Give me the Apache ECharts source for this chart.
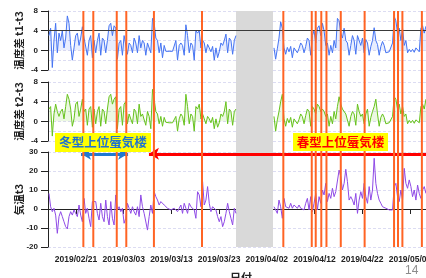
<!DOCTYPE html>
<html><head><meta charset="utf-8">
<script src="https://cdn.jsdelivr.net/npm/echarts@6/dist/echarts.min.js"></script>
<style>html,body{margin:0;padding:0;background:#fff}#c{width:426px;height:278px}</style>
</head><body><div id="c"></div>
<script>
// ---- data ----
const STEP_H = 8.4;
const startA = '2019-02-15T08:00';       // first segment (before the data gap)
const startB = '2019-04-03T12:00';       // second segment (after the data gap)

const t1t3_A = [3.0,4.5,-3.5,2.0,5.5,-0.5,3.5,2.0,4.0,0.5, 2.5,7.0,5.5,1.0,-2.0,0.5,3.0,3.5,1.0,2.5,
  4.8,2.5,2.5,-1.0,2.0,3.0,-1.5,2.0,-0.5,2.0, 3.5,-1.0,2.5,2.0,-0.5,2.0,5.0,5.5,3.0,5.0,
  4.5,-1.8,1.5,2.0,-1.0,3.0,3.2,-0.8,1.5,1.0, -0.5,2.5,1.5,-0.5,3.0,0.5,2.0,1.5,-1.0,1.5,
  1.2,-0.5,6.5,5.5,2.5,2.0,-0.5,1.5,-1.5,1.0, -0.2,-0.3,-0.2,-0.4,-0.2,-0.5,2.0,-2.0,1.0,1.5,
  1.0,-1.0,5.2,3.0,-0.5,1.5,1.0,-2.0,4.0,3.5, 4.0,0.5,2.0,1.5,-0.5,1.2,0.5,-0.3,0.8,-2.0,
  0.5,-1.5,-0.3,1.5,1.0,2.0,3.3,-0.5,2.5,2.0, -0.8,2.0,3.0];
const t1t3_B = [0.5,-1.8,0.3,2.5,5.8,4.5,0.5,-0.8,0.6,-0.3, 0.8,-1.5,0.5,0.7,-0.5,0.4,1.5,1.0,-0.5,0.8,
  2.5,2.0,-1.0,3.0,4.0,1.5,4.5,5.0,3.0,5.5, 4.0,1.0,1.5,-1.0,1.0,-0.5,2.0,0.5,6.5,6.0,
  3.5,2.5,4.5,2.0,1.5,-1.0,1.0,3.0,2.0,-0.8, 3.0,2.0,1.0,2.5,-0.5,2.2,1.5,-1.0,0.8,2.0,
  4.6,2.0,1.2,-1.0,0.8,1.8,1.0,-0.5,-0.2,-0.3, -0.2,1.5,6.9,6.0,3.5,4.5,2.0,4.5,1.0,2.0,
  -0.5,0.2,-0.3,0.2,-0.4,0.5,0.7,-0.3,4.5,5.0, 3.5,4.9];

const t2t3_A = [2.5,3.0,-3.0,1.5,3.5,2.0,1.0,2.0,2.5,0.5, 3.0,5.5,4.5,2.5,-1.0,0.5,3.5,4.0,1.0,2.5,
  4.5,2.0,2.5,-0.8,2.5,3.0,-1.2,2.5,-0.5,2.0, 3.0,-1.0,2.5,2.0,-0.5,2.5,5.0,5.5,3.5,4.5,
  5.0,-1.5,2.5,3.0,-0.8,3.5,4.0,-0.5,1.5,1.2, -0.5,2.5,2.0,-0.5,3.5,1.0,1.5,1.2,-0.8,2.0,
  1.0,-1.5,6.5,4.5,2.0,1.5,-0.5,1.0,-1.0,0.8, -0.2,-0.2,-0.3,-0.2,-0.3,-0.2,1.0,-2.0,0.5,1.5,
  1.0,-0.8,5.5,3.0,-0.5,1.5,1.0,-2.0,3.0,2.5, 3.5,0.5,1.5,1.5,-0.5,1.0,0.5,-0.3,0.8,-1.5,
  0.5,-1.2,-0.3,1.5,1.0,2.0,4.0,-0.5,2.5,2.0, -0.8,2.0,2.5];
const t2t3_B = [1.0,-2.0,0.3,2.0,4.0,5.5,0.5,-1.0,0.6,-0.3, 0.8,-1.2,0.5,0.6,-0.5,0.4,1.5,1.0,-0.5,1.2,
  2.5,2.0,-1.0,3.0,2.5,1.5,3.5,3.0,2.0,2.5, 2.0,1.0,1.5,-1.0,1.0,-0.5,2.0,0.5,3.0,5.0,
  3.5,2.5,2.5,1.5,1.5,-1.0,1.0,2.0,1.5,-0.8, 3.5,2.0,1.0,1.5,-0.5,1.5,2.5,-1.0,0.8,2.0,
  3.0,4.5,1.5,-1.0,0.8,1.5,0.8,-0.5,-0.2,-0.3, -0.2,1.0,5.0,4.5,2.5,3.5,1.5,3.0,1.0,1.5,
  -0.5,0.2,-0.3,0.2,-0.4,0.3,0.5,-0.3,3.0,3.5, 2.5,4.5];

const t3_A = [8.2,1.2,-1.4,0.4,-3.2,-12.8,-4.0,-1.4,-4.0,-6.7, -9.3,-10.5,-4.0,-1.4,-3.2,-0.5,-2.3,-4.0,2.1,-3.2,
  -6.7,5.6,-2.3,0.4,-4.9,-9.3,3.9,3.0,3.9,-2.3, -5.8,3.0,-4.0,-6.7,4.7,-4.0,-8.4,3.9,-4.9,-8.4,
  7.4,-0.5,1.2,-1.4,0.4,-7.5,-4.9,3.0,0.4,-2.3, 1.2,-1.4,-3.2,1.2,-4.0,7.4,1.2,-2.3,-3.2,-11.1,
  -4.0,2.1,-2.3,9.1,6.5,4.7,2.1,3.9,3.0,2.1, 1.2,0.4,0.9,-0.5,0.2,0.4,-0.5,-1.4,0.4,2.1,
  -2.3,3.0,0.4,-2.3,3.0,1.2,0.4,-0.5,-4.9,9.1, 7.4,1.2,14.4,2.1,4.7,11.8,3.0,-1.4,1.2,0.4,
  -0.5,-4.0,-6.7,-4.0,-9.3,-6.7,-2.3,3.0,-1.4,-4.9, -8.4,0.4,-2.3];
const t3_B = [1.2,-0.5,-2.3,4.7,1.2,-4.9,5.6,1.2,2.1,0.4, 3.0,0.4,2.1,1.2,0.4,2.1,0.4,1.2,-0.5,3.0,
  5.6,-0.5,6.5,-1.4,3.0,8.2,-0.5,6.5,3.0,10.0, 7.4,13.5,3.9,8.2,5.6,10.9,6.5,9.1,8.2,20.5,
  17.0,10.0,13.5,20.9,14.4,4.7,6.5,4.7,2.1,8.2, -2.3,4.7,9.1,5.6,13.5,6.5,3.0,11.8,4.7,10.0,
  26.7,13.5,8.2,4.7,3.0,1.2,0.4,0.4,-0.5,-0.5, -0.5,-0.5,11.8,13.5,6.5,3.9,10.0,4.7,21.4,13.5,
  10.9,15.3,11.8,6.5,10.0,4.7,12.6,8.2,5.6,10.0, 11.8,8.2];

const dateTicks = ['2019-02-21','2019-03-03','2019-03-13','2019-03-23','2019-04-02','2019-04-12','2019-04-22','2019-05-02'];
const mirageDays = ['2019-02-22T13:00','2019-02-24T15:00','2019-03-01T13:00','2019-03-03T13:00','2019-03-09T08:00',
  '2019-03-19T10:00','2019-04-05T11:00','2019-04-11T10:00','2019-04-12T06:00','2019-04-13T10:00','2019-04-14T12:00',
  '2019-04-17T12:00','2019-04-22T12:00','2019-04-28T16:00','2019-04-29T12:00','2019-04-30T10:00','2019-05-04T12:00'];
const gapRange = ['2019-03-26T13:00','2019-04-03T07:00'];
const winterRange = ['2019-02-22T01:00','2019-03-03T22:00'];
const springRange = ['2019-03-08T07:00','2019-05-07T01:00'];
const xRange = ['2019-02-15T03:08','2019-05-07T01:00'];
const yT1 = [-4, 8, 4], yT3 = [-20, 30, 10];
const ARROW_Y = 39.5; // position of the arrows on the 0..100 overlay scale

// ---- helpers ----
const ts = s => Date.parse(s.length === 10 ? s + 'T00:00Z' : s + 'Z');
const H = 3600e3;
function series2(a, b) {
  const s0 = ts(startA), s1 = ts(startB);
  const out = a.map((v, i) => [s0 + i * STEP_H * H, v]);
  out.push([(ts(gapRange[0]) + ts(gapRange[1])) / 2, null]);
  return out.concat(b.map((v, i) => [s1 + i * STEP_H * H, v]));
}
const pad = n => (n < 10 ? '0' : '') + n;
const fmtDate = v => { const d = new Date(v); return d.getUTCFullYear() + '/' + pad(d.getUTCMonth() + 1) + '/' + pad(d.getUTCDate()); };

const LAT = '"Liberation Sans", Arial, sans-serif';
const CJK = '"Noto Sans CJK JP", sans-serif';
const ink = '#222';
const gridLine = { show: true, lineStyle: { color: '#dcdcf2', type: [3, 2], width: 1 } };

const grids = [
  { left: 48, right: -8, top: 11, height: 59 },
  { left: 48, right: -8, top: 82, height: 59 },
  { left: 48, right: -8, top: 152, height: 95 },
  { left: 48, right: -8, top: 11, height: 236 }
].map(g => Object.assign(g, { outerBoundsMode: 'none', containLabel: false }));

function xAx(i, visible) {
  const ax = { type: 'value', gridIndex: i, min: ts(xRange[0]), max: ts(xRange[1]), splitLine: { show: false } };
  if (!visible) { ax.show = false; return ax; }
  return Object.assign(ax, {
    axisLine: { show: true, lineStyle: { color: ink, width: 1 } },
    axisTick: { show: true, length: 5, lineStyle: { color: ink }, customValues: dateTicks.map(ts) },
    axisLabel: { show: true, customValues: dateTicks.map(ts), formatter: fmtDate, margin: 8,
      fontSize: 8.5, fontWeight: 'bold', color: ink, fontFamily: LAT, hideOverlap: false },
    minorTick: { show: false },
    name: '日付', nameLocation: 'middle', nameGap: 25, nameMoveOverlap: false,
    nameTextStyle: { fontSize: 11, fontWeight: 'bold', color: ink, fontFamily: CJK }
  });
}
function yAx(i, r, name, minor) {
  return {
    type: 'value', gridIndex: i, min: r[0], max: r[1], interval: r[2],
    axisLine: { show: true, lineStyle: { color: ink, width: 1 } },
    axisTick: { show: true, length: 7, lineStyle: { color: ink } },
    axisLabel: { margin: 10, fontSize: 8, fontWeight: 'bold', color: ink, fontFamily: LAT },
    splitLine: gridLine,
    minorTick: { show: false, splitNumber: 2 },
    minorSplitLine: { show: minor, lineStyle: { color: '#dcdcf2', type: [3, 2], width: 1 } },
    name: name, nameLocation: 'middle', nameGap: 24, nameMoveOverlap: false,
    nameTextStyle: { fontSize: 10.5, fontWeight: 'bold', color: ink, fontFamily: CJK }
  };
}

const option = {
  animation: false,
  backgroundColor: '#fff',
  grid: grids,
  xAxis: [xAx(0, false), xAx(1, false), xAx(2, true), xAx(3, false)],
  yAxis: [
    yAx(0, yT1, '温度差 t1-t3', true),
    yAx(1, yT1, '温度差 t2-t3', true),
    yAx(2, yT3, '気温t3', false),
    { type: 'value', gridIndex: 3, min: 0, max: 100, show: false }
  ],
  series: [
    { type: 'line', xAxisIndex: 0, yAxisIndex: 0, data: series2(t1t3_A, t1t3_B), showSymbol: false, z: 2,
      lineStyle: { color: '#4574f2', width: 1 }, areaStyle: { color: 'rgba(90,130,245,0.2)' },
      markLine: { silent: true, symbol: 'none', label: { show: false },
        lineStyle: { color: '#3a3a3a', width: 1, type: 'solid' }, data: [{ yAxis: 4 }] } },
    { type: 'line', xAxisIndex: 1, yAxisIndex: 1, data: series2(t2t3_A, t2t3_B), showSymbol: false, z: 2,
      lineStyle: { color: '#66c21c', width: 1 }, areaStyle: { color: 'rgba(120,205,50,0.2)' } },
    { type: 'line', xAxisIndex: 2, yAxisIndex: 2, data: series2(t3_A, t3_B), showSymbol: false, z: 2,
      lineStyle: { color: '#8f4ae6', width: 1 } },
    { type: 'bar', xAxisIndex: 3, yAxisIndex: 3, z: 5, barWidth: 2, silent: true,
      data: mirageDays.map(d => [ts(d), 100]), itemStyle: { color: '#ff6424' },
      markArea: { silent: true, itemStyle: { color: '#d9d9d9' },
        data: [[{ xAxis: ts(gapRange[0]) }, { xAxis: ts(gapRange[1]) }]] } },
    { type: 'line', xAxisIndex: 3, yAxisIndex: 3, z: 20, silent: true, showSymbol: false,
      data: [[ts(winterRange[0]), ARROW_Y]], lineStyle: { opacity: 0 },
      markLine: { silent: true, label: { show: false }, symbolSize: [9, 10],
        data: [
          [{ coord: [ts(winterRange[0]), ARROW_Y], symbol: 'arrow', lineStyle: { color: '#1f78d1', width: 3, type: 'solid' } },
           { coord: [ts(winterRange[1]), ARROW_Y], symbol: 'arrow' }],
          [{ coord: [ts(springRange[0]), ARROW_Y], symbol: 'arrow', lineStyle: { color: '#ff0000', width: 3, type: 'solid' } },
           { coord: [ts(springRange[1]), ARROW_Y], symbol: 'none' }]
        ] } }
  ],
  graphic: [
    { type: 'rect', z: 10, shape: { x: 55, y: 133, width: 96, height: 19 }, style: { fill: '#ffff00' } },
    { type: 'text', z: 11, x: 103, y: 142.5, style: { text: '冬型上位蜃気楼', fill: '#1f72d0', font: 'bold 12.5px "Noto Sans CJK JP"', align: 'center', verticalAlign: 'middle' } },
    { type: 'rect', z: 10, shape: { x: 293, y: 133, width: 95, height: 18 }, style: { fill: '#ffff00' } },
    { type: 'text', z: 11, x: 340.5, y: 142.5, style: { text: '春型上位蜃気楼', fill: '#ff0000', font: 'bold 12.5px "Noto Sans CJK JP"', align: 'center', verticalAlign: 'middle' } },
    { type: 'text', z: 11, x: 405, y: 265, style: { text: '14', fill: '#8c8c8c', font: '12px "Liberation Sans"' } }
  ]
};
const chart = echarts.init(document.getElementById('c'), null, { renderer: 'canvas' });
chart.setOption(option);
</script></body></html>
